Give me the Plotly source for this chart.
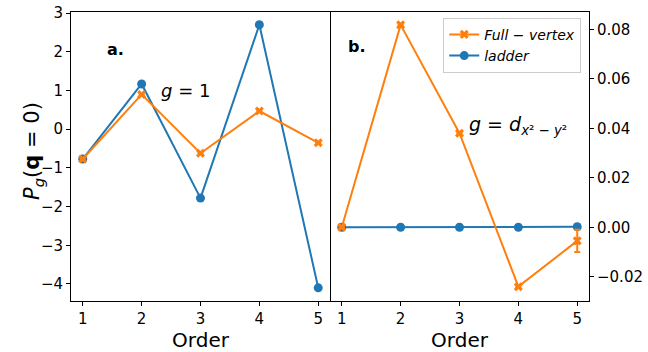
import plotly.graph_objects as go
from plotly.subplots import make_subplots

# data
order = [1, 2, 3, 4, 5]

# panel a: g = 1
ladder_a = [-0.77, 1.17, -1.78, 2.70, -4.10]
full_a = [-0.77, 0.90, -0.62, 0.47, -0.35]

# panel b: g = d_{x^2-y^2}
ladder_b = [0.0, 0.0, 0.0, 0.0, 0.0002]
full_b = [0.0, 0.0818, 0.0380, -0.0240, -0.0055]
full_b_err = [0.0003, 0.0004, 0.0004, 0.0004, 0.0045]

blue = "#1f77b4"
orange = "#ff7f0e"

fig = make_subplots(rows=1, cols=2, horizontal_spacing=0)

def add_pair(col, yl, yf, err=None, show=False):
    fig.add_trace(go.Scatter(
        x=order, y=yl, mode="lines+markers", name="<i>ladder</i>",
        line=dict(color=blue, width=2), marker=dict(color=blue, size=9, symbol="circle"),
        error_y=dict(type="data", array=[0] * 5, color=blue, thickness=2, width=3),
        showlegend=show, legendrank=2), row=1, col=col)
    fig.add_trace(go.Scatter(
        x=order, y=yf, mode="lines+markers", name="<i>Full − vertex</i>",
        line=dict(color=orange, width=2), marker=dict(color=orange, size=8, symbol="x"),
        error_y=dict(type="data", array=err if err else [0] * 5, color=orange,
                     thickness=2, width=3),
        showlegend=show, legendrank=1), row=1, col=col)

add_pair(1, ladder_a, full_a)
add_pair(2, ladder_b, full_b, full_b_err, show=True)

axis_common = dict(showline=True, linecolor="black", linewidth=1,
                   ticks="outside", ticklen=4, tickcolor="black", showgrid=False,
                   zeroline=False, automargin=False,
                   tickfont=dict(size=15, color="black"))

fig.update_xaxes(range=[0.8, 5.2], tickvals=order, mirror=True,
                 title=dict(text="Order", font=dict(size=20, color="black")),
                 **axis_common)
fig.update_yaxes(range=[-4.44, 3.03], tickvals=[-4, -3, -2, -1, 0, 1, 2, 3],
                 mirror=True, row=1, col=1, **axis_common)
fig.update_yaxes(range=[-0.0298, 0.0870], tickvals=[-0.02, 0, 0.02, 0.04, 0.06, 0.08],
                 tickformat=".2f", side="right", mirror=False,
                 row=1, col=2, **axis_common)

# y-axis title placed as a rotated annotation for finer positioning
fig.add_annotation(x=-0.102, y=0.52, xref="paper", yref="paper",
                   text="<i>P</i><sub><i>g</i></sub>(<b>q</b> = 0)", textangle=-90,
                   showarrow=False, font=dict(size=21, color="black"))

fig.add_annotation(x=1.55, y=2.05, xref="x", yref="y", text="<b>a.</b>",
                   showarrow=False, font=dict(size=16, color="black"))
fig.add_annotation(x=2.74, y=1.01, xref="x", yref="y", text="<i>g</i> = 1",
                   showarrow=False, font=dict(size=18, color="black"))
fig.add_annotation(x=1.26, y=0.0729, xref="x2", yref="y2", text="<b>b.</b>",
                   showarrow=False, font=dict(size=16, color="black"))
fig.add_annotation(x=3.99, y=0.0413, xref="x2", yref="y2",
                   text="<i>g</i> = <i>d</i><sub><i>x</i>² − <i>y</i>²</sub>",
                   showarrow=False, font=dict(size=19, color="black"))

fig.update_layout(
    width=648, height=352,
    margin=dict(l=71, r=59, t=12, b=51),
    plot_bgcolor="white", paper_bgcolor="white",
    font=dict(family="DejaVu Sans", color="black"),
    legend=dict(x=0.985, y=0.98, xanchor="right", yanchor="top",
                bgcolor="white", bordercolor="#cccccc", borderwidth=1,
                font=dict(size=14, color="black"), tracegroupgap=0),
)

# the page has a default body margin; remove it so the figure sits at the corner
fig.write_html("out.html", config={"displayModeBar": False},
               post_script="document.body.style.margin='0';")
